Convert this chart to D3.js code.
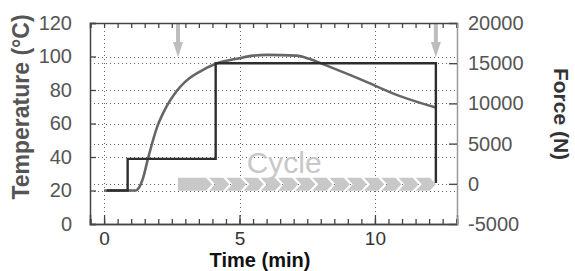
<!DOCTYPE html>
<html>
<head>
<meta charset="utf-8">
<script src="https://cdnjs.cloudflare.com/ajax/libs/d3/7.8.5/d3.min.js"></script>
<style>
  body { margin: 0; background: #fff; }
  svg { display: block; font-family: "Liberation Sans", Arial, sans-serif; }
</style>
</head>
<body>
<svg width="575" height="271"></svg>
<script>
// Temperature curve (min, °C)
var tempTime  = [0, 1.15, 1.3, 1.45, 1.62, 1.96, 2.3, 2.66, 3.0, 3.54, 4.1, 5.0, 5.5, 6.0, 7.1, 7.6, 8.15, 9.45, 10.9, 12.25];
var tempValue = [20, 20, 22, 28, 39, 58, 70, 79, 85, 91, 95.5, 99, 100.5, 101, 100.5, 98.5, 95, 86.5, 76.5, 69.5];

// Force step profile (min, N)
var forceTime  = [0.1, 0.87, 0.87, 4.12, 4.12, 12.25, 12.25];
var forceValue = [-830, -830, 3100, 3100, 15000, 15000, 100];

// Ticks
var timeTicks  = [0, 5, 10];
var tempTicks  = [0, 20, 40, 60, 80, 100, 120];
var forceTicks = [-5000, 0, 5000, 10000, 15000, 20000];

// Annotations
var arrowTimes = [2.73, 12.25];
var cycleRange = [2.73, 12.25];
var cycleCount = 13;
var cycleLabel = "Cycle";

var svg = d3.select("svg");

var x  = d3.scaleLinear().domain([-0.52, 13.03]).range([90, 457]);
var yT = d3.scaleLinear().domain([0, 120]).range([224, 23]);
var yF = d3.scaleLinear().domain([-5000, 20000]).range([224, 23]);

// Dotted grid
var grid = svg.append("g")
  .attr("stroke", "#666")
  .attr("stroke-width", 1)
  .attr("stroke-dasharray", "1,3");

grid.selectAll(".gt")
  .data(tempTicks.slice(1, -1))
  .enter().append("line")
  .attr("x1", 90).attr("x2", 457)
  .attr("y1", function(d) { return Math.round(yT(d)) + 0.5; })
  .attr("y2", function(d) { return Math.round(yT(d)) + 0.5; });

grid.selectAll(".gf")
  .data(forceTicks.slice(1, -1))
  .enter().append("line")
  .attr("x1", 90).attr("x2", 457)
  .attr("y1", function(d) { return Math.round(yF(d)) + 0.5; })
  .attr("y2", function(d) { return Math.round(yF(d)) + 0.5; });

grid.selectAll(".gx")
  .data(timeTicks)
  .enter().append("line")
  .attr("x1", function(d) { return Math.round(x(d)) + 0.5; })
  .attr("x2", function(d) { return Math.round(x(d)) + 0.5; })
  .attr("y1", 23).attr("y2", 224);

// Cycle band made of chevrons
var c0 = x(cycleRange[0]), c1 = x(cycleRange[1]);
var bandMid = yF(0) + 0.5, half = 6.5, tip = 6, gap = 3, lead = 28;
var bandTop = bandMid - half, bandBot = bandMid + half;
var segs = [[c0, c0 + lead, false]];
var pitch = (c1 - tip - (c0 + lead)) / cycleCount;
for (var i = 0; i < cycleCount; i++) {
  segs.push([c0 + lead + gap + i * pitch, c0 + lead + (i + 1) * pitch, true]);
}
svg.append("g").selectAll("polygon")
  .data(segs)
  .enter().append("polygon")
  .attr("fill", "#c8c8c8")
  .attr("points", function(d) {
    var p = [[d[0], bandTop], [d[1], bandTop], [d[1] + tip, bandMid], [d[1], bandBot], [d[0], bandBot]];
    if (d[2]) p.push([d[0] + tip, bandMid]);
    return p.join(" ");
  });

svg.append("text")
  .attr("x", x(6.65))
  .attr("y", 173)
  .attr("text-anchor", "middle")
  .attr("font-size", 30)
  .attr("fill", "#c8c8c8")
  .text(cycleLabel);

// Arrows at the top
var arrows = svg.append("g").attr("fill", "#bdbdbd");
arrowTimes.forEach(function(t) {
  var ax = x(t);
  arrows.append("rect")
    .attr("x", ax - 2).attr("y", yT(120))
    .attr("width", 4).attr("height", 21);
  arrows.append("polygon")
    .attr("points", [[ax - 5, 42], [ax + 5, 42], [ax, yT(99.5)]].join(" "));
});

// Lines
var tempLine = d3.line()
  .x(function(d, i) { return x(tempTime[i]); })
  .y(function(d) { return yT(d); })
  .curve(d3.curveMonotoneX);

svg.append("path")
  .datum(tempValue)
  .attr("fill", "none")
  .attr("stroke", "#666")
  .attr("stroke-width", 2.6)
  .attr("d", tempLine);

var forceLine = d3.line()
  .x(function(d, i) { return x(forceTime[i]); })
  .y(function(d) { return yF(d); });

svg.append("path")
  .datum(forceValue)
  .attr("fill", "none")
  .attr("stroke", "#2e2e2e")
  .attr("stroke-width", 2.4)
  .attr("d", forceLine);

// Axes
var minor = d3.range(-0.5, 13.01, 0.5);
var plain = function(d) { return String(d); };

var bottomMinor = svg.append("g").attr("transform", "translate(0,224)")
  .call(d3.axisBottom(x).tickValues(minor).tickSize(-5).tickFormat(""));
var bottomMajor = svg.append("g").attr("transform", "translate(0,224)")
  .call(d3.axisBottom(x).tickValues(timeTicks).tickSize(-9).tickPadding(8).tickFormat(plain));
var topMinor = svg.append("g").attr("transform", "translate(0,23)")
  .call(d3.axisTop(x).tickValues(minor).tickSize(-5).tickFormat(""));
var left = svg.append("g").attr("transform", "translate(90,0)")
  .call(d3.axisLeft(yT).tickValues(tempTicks).tickSize(-6).tickPadding(18).tickFormat(plain));
var right = svg.append("g").attr("transform", "translate(457,0)")
  .call(d3.axisRight(yF).tickValues(forceTicks).tickSize(-8).tickPadding(11).tickFormat(plain));

[bottomMinor, bottomMajor, topMinor, left, right].forEach(function(g) {
  g.select(".domain").attr("stroke", "#444").attr("stroke-width", 1.5);
  g.selectAll(".tick line").attr("stroke", "#444").attr("stroke-width", 1.3);
  g.selectAll(".tick text")
    .attr("font-family", "Liberation Sans, Arial, sans-serif")
    .attr("font-size", 20)
    .attr("fill", "#555");
});
right.select(".domain").attr("stroke", "#999");
bottomMajor.selectAll(".tick text").attr("fill", "#333").attr("font-size", 19);

// Axis titles
svg.append("text")
  .attr("transform", "translate(29,107) rotate(-90)")
  .attr("text-anchor", "middle")
  .attr("font-size", 23)
  .attr("font-weight", "bold")
  .attr("fill", "#555")
  .text("Temperature (°C)");

svg.append("text")
  .attr("transform", "translate(554,114) rotate(90)")
  .attr("text-anchor", "middle")
  .attr("font-size", 21)
  .attr("font-weight", "bold")
  .attr("fill", "#333")
  .text("Force (N)");

svg.append("text")
  .attr("x", 260)
  .attr("y", 267)
  .attr("text-anchor", "middle")
  .attr("font-size", 20)
  .attr("font-weight", "bold")
  .attr("fill", "#111")
  .text("Time (min)");
</script>
</body>
</html>
